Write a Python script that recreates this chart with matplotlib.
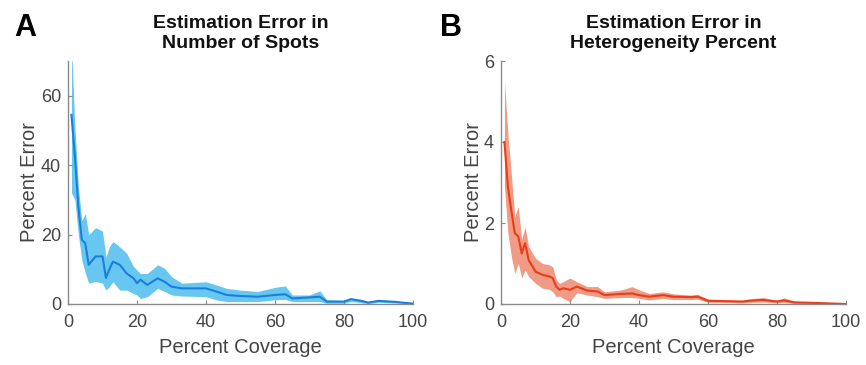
import matplotlib.pyplot as plt

plt.rcParams['font.family'] = ['Liberation Sans', 'DejaVu Sans']

# panel A: estimation error in number of spots
spots_x = [1, 2, 3, 4, 5, 6, 8, 10, 11, 12, 13, 15, 17, 19, 20, 21, 23, 26, 28, 30,
           33, 40, 43, 46, 50, 55, 60, 63, 65, 70, 73, 75, 80, 82, 85, 87, 90, 95, 100]
spots_mean = [54.5, 42.5, 28, 18.5, 17.5, 11.3, 13.7, 13.7, 7.5, 10, 12.2, 11.3, 8.8, 7.4, 6, 7, 5.5, 7.4, 6.4, 5,
              4.5, 4.5, 3.6, 2.6, 2.3, 2.1, 2.6, 2.8, 1.6, 1.9, 2.1, 0.7, 0.7, 1.4, 0.9, 0.4, 0.9, 0.6, 0.1]
spots_upper = [75, 51, 34, 24, 26, 20, 22, 21, 13.5, 16.5, 18, 16.5, 14.6, 10.8, 9.8, 8.8, 8.8, 11.3, 10.3, 7.9,
               6, 6.4, 5.5, 4.5, 4, 3.6, 4.8, 5.2, 2.6, 2.6, 3.8, 1.2, 1, 1.8, 1.3, 0.7, 1.2, 0.9, 0.2]
spots_lower = [32, 30, 20, 12.7, 9, 6, 6.5, 6, 4, 5, 6.4, 4, 4, 3, 2.6, 1.6, 2.1, 4.5, 3.6, 2.6,
               2.3, 2.1, 1.2, 0.7, 0.7, 0.7, 1.2, 1.3, 0.7, 0.7, 0.7, 0.2, 0.2, 0.7, 0.4, 0.1, 0.5, 0.3, 0.0]

# panel B: estimation error in heterogeneity percent
het_x = [1, 2, 3, 4, 5, 6, 7, 8, 10, 12, 14, 15, 16, 17, 18, 20, 22, 25, 28, 30,
         35, 38, 40, 43, 47, 50, 55, 57, 60, 65, 70, 72, 76, 80, 82, 85, 90, 100]
het_mean = [4.0, 2.9, 2.3, 1.75, 1.67, 1.25, 1.5, 1.09, 0.8, 0.72, 0.68, 0.64, 0.43, 0.35, 0.39, 0.35, 0.43, 0.33, 0.31, 0.22,
            0.25, 0.26, 0.22, 0.18, 0.22, 0.18, 0.17, 0.18, 0.08, 0.07, 0.06, 0.08, 0.1, 0.06, 0.09, 0.04, 0.03, 0.0]
het_upper = [5.5, 4.2, 3.2, 2.16, 2.4, 1.6, 1.9, 1.42, 1.13, 1.0, 0.97, 0.92, 0.6, 0.51, 0.55, 0.64, 0.55, 0.43, 0.43, 0.3,
             0.35, 0.43, 0.35, 0.26, 0.3, 0.25, 0.22, 0.24, 0.12, 0.1, 0.09, 0.13, 0.16, 0.09, 0.15, 0.07, 0.05, 0.01]
het_lower = [2.9, 1.75, 1.17, 0.76, 1.0, 0.64, 0.84, 0.68, 0.51, 0.39, 0.36, 0.3, 0.18, 0.2, 0.14, 0.06, 0.28, 0.22, 0.18, 0.14,
             0.16, 0.16, 0.14, 0.1, 0.14, 0.11, 0.11, 0.12, 0.04, 0.04, 0.03, 0.04, 0.05, 0.03, 0.04, 0.01, 0.01, 0.0]

panels = [
    ("A", "Estimation Error in\nNumber of Spots", spots_x, spots_mean, spots_lower, spots_upper,
     (0, 70), [0, 20, 40, 60], "#1a7fdc", "#4DBEEE", 0.85),
    ("B", "Estimation Error in\nHeterogeneity Percent", het_x, het_mean, het_lower, het_upper,
     (0, 6), [0, 2, 4, 6], "#ea3d17", "#ec7a5c", 0.75),
]

fig = plt.figure(figsize=(8.66, 3.65), dpi=100)
lefts = [68 / 866, 501 / 866]
letter_x = [14 / 866, 440 / 866]

for i, (letter, title, x, m, lo, hi, ylim, yt, lc, fc, fa) in enumerate(panels):
    ax = fig.add_axes([lefts[i], 1 - 304 / 365, 345 / 866, 243 / 365])
    ax.fill_between(x, lo, hi, color=fc, alpha=fa, linewidth=0)
    ax.plot(x, m, color=lc, linewidth=1.5)
    ax.set_xlim(0, 100)
    ax.set_ylim(*ylim)
    ax.set_xticks([0, 20, 40, 60, 80, 100])
    ax.set_yticks(yt)
    for s in ['top', 'right']:
        ax.spines[s].set_visible(False)
    for s in ['left', 'bottom']:
        ax.spines[s].set_color('#8a8a8a')
        ax.spines[s].set_linewidth(1.0)
    ax.tick_params(direction='in', length=3, color='#8a8a8a', labelsize=13,
                   labelcolor='#444444')
    ax.tick_params(axis='x', pad=7)
    ax.tick_params(axis='y', pad=5)
    ax.set_xlabel("Percent Coverage", fontsize=14.5, color='#444444', labelpad=5)
    ax.set_ylabel("Percent Error", fontsize=14.5, color='#444444', labelpad=1)
    ax.set_title(title, fontsize=14, fontweight='bold', color='#111111', pad=9, linespacing=1.3)
    fig.text(letter_x[i], 1 - 13 / 365, letter, fontsize=22, fontweight='bold', va='top', ha='left')

fig.savefig("out.png", dpi=100)
